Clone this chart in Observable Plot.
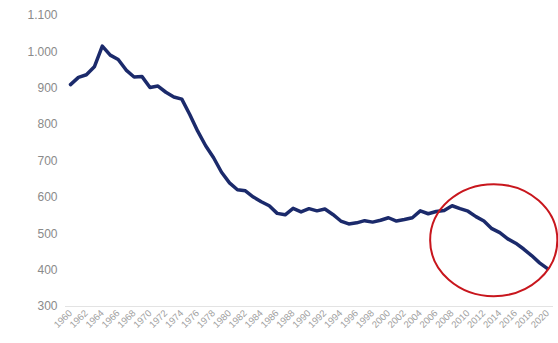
<!DOCTYPE html>
<html>
<head>
<meta charset="utf-8">
<script src="https://cdn.jsdelivr.net/npm/d3@7"></script>
<script src="https://cdn.jsdelivr.net/npm/@observablehq/plot@0.6"></script>
<style>
  html, body { margin: 0; padding: 0; background: #fff; }
  #chart { width: 558px; height: 343px; }
</style>
</head>
<body>
<div id="chart"></div>
<script>
const years = d3.range(1960, 2021);
const births = [
  910, 930, 937, 959, 1016, 991, 979, 950, 931, 932,
  902, 906, 889, 876, 870, 828, 782, 742, 709, 669,
  640, 621, 618, 601, 588, 577, 556, 552, 570, 560,
  569, 563, 568, 553, 535, 527, 530, 536, 532, 537,
  544, 535, 539, 544, 563, 555, 561, 564, 577, 569,
  562, 547, 535, 514, 503, 486, 474, 458, 440, 420,
  404
];
const yTicks = [300, 400, 500, 600, 700, 800, 900, 1000, 1100];
const xTicks = d3.range(1960, 2021, 2);
// annotation ellipse in data units: center year, center value, half-width (years), half-height (value)
const ellipseCenter = [2013.3, 481];
const ellipseRadii = [8.0, 154];

const data = years.map((y, i) => ({year: y, value: births[i]}));
const fmt = d => d.toLocaleString("de-DE");

const plot = Plot.plot({
  width: 558,
  height: 343,
  marginLeft: 65,
  marginRight: 5,
  marginTop: 15,
  marginBottom: 37,
  style: {fontFamily: "'Liberation Sans', Arial, sans-serif", background: "#fff"},
  x: {domain: [1960, 2020], insetLeft: 5, insetRight: 6, label: null},
  y: {domain: [300, 1100], label: null},
  marks: [
    Plot.ruleY([300], {stroke: "#e3e3e3", strokeWidth: 1}),
    Plot.axisY({ticks: yTicks, tickFormat: fmt, tickSize: 0, tickPadding: 8, fontSize: 12, color: "#8a8a8a", label: null}),
    Plot.axisX({ticks: xTicks, tickFormat: d => String(d), tickSize: 0, tickPadding: 5, tickRotate: -45, fontSize: 9.5, color: "#a0a0a0", label: null}),
    Plot.line(data, {x: "year", y: "value", stroke: "#1b2a6b", strokeWidth: 3.5, curve: "linear", strokeLinejoin: "round"})
  ]
});

// draw annotation ellipse using the plot's scales
const sx = plot.scale("x"), sy = plot.scale("y");
const cx = sx.apply(ellipseCenter[0]);
const cy = sy.apply(ellipseCenter[1]);
const rx = Math.abs(sx.apply(ellipseCenter[0] + ellipseRadii[0]) - cx);
const ry = Math.abs(sy.apply(ellipseCenter[1] + ellipseRadii[1]) - cy);
d3.select(plot).append("ellipse")
  .attr("cx", cx).attr("cy", cy).attr("rx", rx).attr("ry", ry)
  .attr("fill", "none").attr("stroke", "#c8161d").attr("stroke-width", 2);

document.getElementById("chart").appendChild(plot);
</script>
</body>
</html>
